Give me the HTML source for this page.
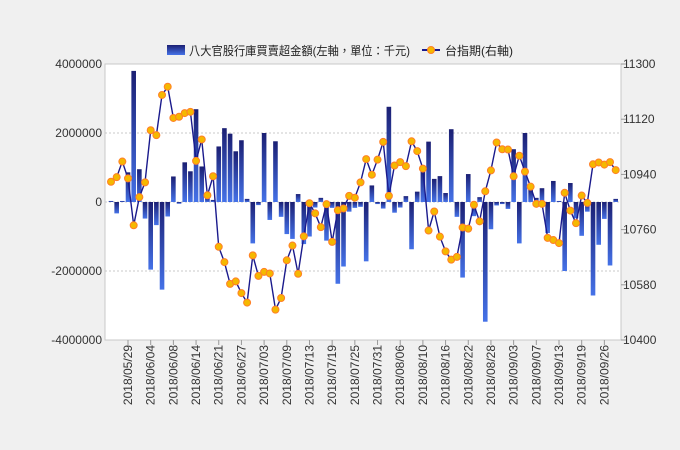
<!DOCTYPE html>
<html><head><meta charset="utf-8"><style>
html,body{margin:0;padding:0;background:#f0f0f0;}
svg{display:block;font-family:"Liberation Sans","Noto Sans CJK TC",sans-serif;}
</style></head><body>
<svg id="chart" width="680" height="450" xmlns="http://www.w3.org/2000/svg">
<defs>
<linearGradient id="barGrad" x1="0" y1="0" x2="0" y2="1">
<stop offset="0" stop-color="#1b1f73"/><stop offset="1" stop-color="#4572e8"/>
</linearGradient>
</defs>
<rect x="0" y="0" width="680" height="450" fill="#f0f0f0"/>
<rect x="105" y="64" width="516" height="276" fill="#ffffff" stroke="#c8c8c8"/>
<g id="legend">
<rect x="167" y="45" width="18" height="10" fill="url(#barGrad)"/>
<text x="189" y="55" font-size="12" fill="#222" textLength="221" lengthAdjust="spacingAndGlyphs">八大官股行庫買賣超金額(左軸，單位：千元)</text>
<line x1="422" y1="50" x2="440" y2="50" stroke="#1a1a8c" stroke-width="2"/>
<circle cx="431" cy="50" r="3.5" fill="#f5b800" stroke="#ff7f27"/>
<text x="445" y="55" font-size="12" fill="#222">台指期(右軸)</text>
</g>
<g id="grid"></g><g id="bars"></g><g id="line"></g><g id="axes"></g>
</svg>
<script>
const dates=["2018/05/29","2018/06/04","2018/06/08","2018/06/14","2018/06/21","2018/06/27","2018/07/03","2018/07/09","2018/07/13","2018/07/19","2018/07/25","2018/07/31","2018/08/06","2018/08/10","2018/08/16","2018/08/22","2018/08/28","2018/09/03","2018/09/07","2018/09/13","2018/09/19","2018/09/26"];
const barValues=[30000,-330000,30000,860000,3800000,950000,-480000,-1960000,-670000,-2540000,-420000,740000,-50000,1150000,890000,2690000,1030000,120000,60000,1610000,2140000,1980000,1470000,1790000,90000,-1200000,-90000,2000000,-520000,1760000,-430000,-930000,-1070000,230000,-1220000,-1000000,-160000,120000,-1120000,-170000,-2370000,-1870000,-280000,-170000,-140000,-1720000,480000,-60000,-190000,2760000,-310000,-160000,170000,-1370000,300000,950000,1750000,670000,750000,260000,2110000,-430000,-2190000,810000,-410000,140000,-3470000,-790000,-100000,-60000,-200000,1530000,-1200000,2000000,370000,120000,400000,-900000,610000,30000,-2000000,550000,-470000,-980000,-280000,-2710000,-1240000,-490000,-1840000,90000];
const indexValues=[10916,10931,10982,10927,10774,10866,10914,11084,11068,11199,11226,11124,11128,11140,11144,10984,11054,10872,10934,10704,10654,10583,10591,10553,10522,10676,10609,10622,10617,10499,10537,10660,10708,10616,10738,10846,10813,10768,10843,10720,10823,10829,10870,10864,10914,10990,10939,10988,11046,10870,10969,10980,10967,11048,11016,10959,10757,10819,10737,10689,10662,10671,10767,10763,10841,10787,10885,10953,11044,11022,11021,10934,11001,10949,10900,10844,10844,10733,10726,10716,10880,10822,10781,10871,10847,10973,10979,10972,10980,10954];
const leftTicks=[4000000,2000000,0,-2000000,-4000000];
const leftTickLabels=["4000000","2000000","0","-2000000","-4000000"];
const rightTicks=[11300,11120,10940,10760,10580,10400];
const rightTickLabels=["11300","11120","10940","10760","10580","10400"];
const labelFirst=3, labelEvery=4;

const NS="http://www.w3.org/2000/svg";
const L=105,R=621,T=64,B=340;
const N=barValues.length;
function xScale(i){return 111+i*(504.7/(N-1));}
function yLeft(v){return T+(4000000-v)/8000000*(B-T);}
function yRight(v){return T+(11300-v)/900*(B-T);}
function mk(tag,attrs,parent){const e=document.createElementNS(NS,tag);for(const k in attrs)e.setAttribute(k,attrs[k]);parent.appendChild(e);return e;}
const grid=document.getElementById('grid'),bars=document.getElementById('bars'),line=document.getElementById('line'),axes=document.getElementById('axes');

leftTicks.forEach((v,i)=>{
  const y=yLeft(v);
  if(v>-4000000&&v<4000000){const g=mk('line',{x1:L,x2:R,y1:y,y2:y,stroke:'#c8c8c8','stroke-dasharray':'2,2'},grid);
  
  }
  const t=mk('text',{x:L-3,y:y+4,'font-size':12,fill:'#333','text-anchor':'end'},axes);
  t.textContent=leftTickLabels[i];
  
  
});
rightTicks.forEach((v,i)=>{
  const y=yRight(v);
  const tk=mk('line',{x1:R,x2:R+5,y1:y,y2:y,stroke:'#999'},axes);
  
  
  const t=mk('text',{x:R+2,y:y+4,'font-size':12,fill:'#333'},axes);
  t.textContent=rightTickLabels[i];
  
  
});
barValues.forEach((v,i)=>{
  const x=xScale(i),y0=yLeft(0),y1=yLeft(v);
  const r=mk('rect',{x:x-2.3,y:Math.min(y0,y1),width:4.6,height:Math.max(1,Math.abs(y1-y0)),fill:'url(#barGrad)'},bars);
  
  
});
const pts=indexValues.map((v,i)=>xScale(i).toFixed(1)+','+yRight(v).toFixed(1)).join(' ');
const pl=mk('polyline',{points:pts,fill:'none',stroke:'#1a1a8c','stroke-width':1.4},line);


indexValues.forEach((v,i)=>{
  const c=mk('circle',{cx:xScale(i),cy:yRight(v),r:3.5,fill:'#f5b800',stroke:'#ff7f27','stroke-width':1},line);
  
  
});
dates.forEach((d,k)=>{
  const i=labelFirst+k*labelEvery,x=xScale(i);
  const tk=mk('line',{x1:x,x2:x,y1:B,y2:B+5,stroke:'#999'},axes);
  
  
  const t=mk('text',{x:0,y:0,'font-size':12,fill:'#333','text-anchor':'end',transform:'translate('+(x+4)+','+(B+5)+') rotate(-90)'},axes);
  t.textContent=d;
  
  
});
</script>
</body></html>
